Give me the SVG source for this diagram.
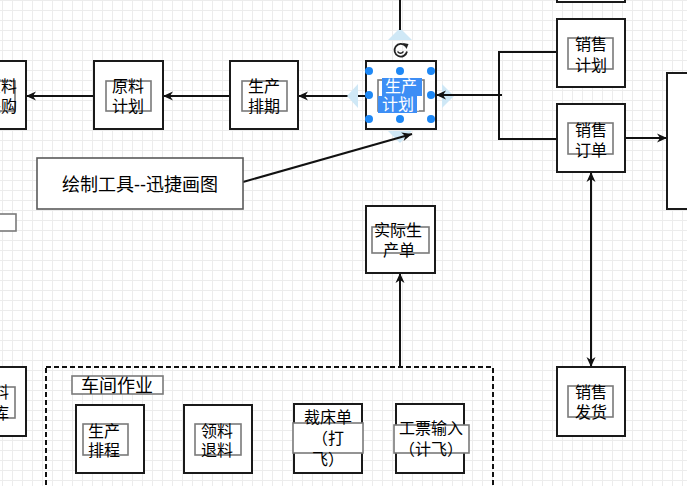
<svg xmlns="http://www.w3.org/2000/svg" width="687" height="486" viewBox="0 0 687 486">
<defs>
<pattern id="grid" width="10" height="10" patternUnits="userSpaceOnUse" x="2" y="0">
<path d="M0,0.5 H10 M0.5,0 V10" stroke="#ececec" stroke-width="1" fill="none"/>
</pattern>
<marker id="arr" viewBox="0 0 10 10" refX="10" refY="5" markerWidth="10" markerHeight="10" markerUnits="userSpaceOnUse" orient="auto-start-reverse">
<path d="M0,0.5 L10,5 L0,9.5 L3,5 z" fill="#111"/>
</marker>
<style>
.box{fill:#fff;stroke:#1a1a1a;stroke-width:2}
.lbl{fill:#fff;stroke:#7a7a7a;stroke-width:1.6}
.t{font-family:"Liberation Sans","Noto Sans CJK SC",sans-serif;font-size:16px;fill:#000;text-anchor:middle}
.t18{font-size:18px}
.ln{fill:none;stroke:#111;stroke-width:2}
.hov{fill:#cfe8f6}
.hdl{fill:#1e88f5}
</style>
</defs>
<rect width="687" height="486" fill="#fff"/>
<rect width="687" height="486" fill="url(#grid)"/>

<g id="hover-arrows">
<polygon class="hov" points="400,28 412,40 388,40"/>
<polygon class="hov" points="400,143 388,131 412,131"/>
<polygon class="hov" points="454,96 442,84 442,108"/>
</g>

<g id="connectors">
<path class="ln" d="M400,0 V30"/>
<path class="ln" d="M366,96 H298" marker-end="url(#arr)"/>
<path class="ln" d="M230,96 H163" marker-end="url(#arr)"/>
<path class="ln" d="M94,96 H26" marker-end="url(#arr)"/>
<path class="ln" d="M557,52 H499 V139 H557"/>
<path class="ln" d="M502,95 H436" marker-end="url(#arr)"/>
<path class="ln" d="M625,138 H667" marker-end="url(#arr)"/>
<path class="ln" d="M591,172 V367" marker-start="url(#arr)" marker-end="url(#arr)"/>
<path class="ln" d="M243,182 L412,134" marker-end="url(#arr)"/>
<path class="ln" d="M400,367 V273" marker-end="url(#arr)"/>
</g>

<g id="hover-left">
<polygon class="hov" points="347,96 358,84 358,108"/>
</g>

<g id="node-yuanliao-caigou">
<rect class="box" x="-42" y="61" width="68" height="68"/>
<rect class="lbl" x="-30" y="81" width="45" height="30"/>
<text class="t" x="1" y="92">原料</text>
<text class="t" x="1" y="112">采购</text>
</g>

<g id="node-yuanliao-jihua">
<rect class="box" x="94" y="61" width="69" height="68"/>
<rect class="lbl" x="106" y="81" width="45" height="30"/>
<text class="t" x="128" y="92">原料</text>
<text class="t" x="128" y="112">计划</text>
</g>

<g id="node-shengchan-paiqi">
<rect class="box" x="230" y="61" width="68" height="68"/>
<rect class="lbl" x="242" y="81" width="45" height="30"/>
<text class="t" x="264" y="92">生产</text>
<text class="t" x="264" y="112">排期</text>
</g>

<g id="node-shengchan-jihua">
<rect class="box" x="366" y="61" width="70" height="68"/>
<rect class="lbl" x="378" y="80" width="46" height="31" stroke="#dddddd"/>
<rect x="382" y="78" width="40" height="18" fill="#3d8ef5"/>
<rect x="378" y="96" width="39" height="17" fill="#3d8ef5"/>
<line x1="418" y1="97" x2="418" y2="111" stroke="#fff" stroke-width="1.5"/>
<text class="t" x="401" y="92" style="fill:#fff">生产</text>
<text class="t" x="398" y="110" style="fill:#fff">计划</text>
<circle class="hdl" cx="369" cy="71" r="4"/>
<circle class="hdl" cx="400" cy="71" r="4"/>
<circle class="hdl" cx="431" cy="71" r="4"/>
<circle class="hdl" cx="369" cy="95" r="4"/>
<circle class="hdl" cx="431" cy="95" r="4"/>
<circle class="hdl" cx="369" cy="119" r="4"/>
<circle class="hdl" cx="400" cy="119" r="4"/>
<circle class="hdl" cx="431" cy="119" r="4"/>
<path d="M405.5,46 A6.3,6.3 0 1 0 407,51.5" fill="none" stroke="#222" stroke-width="1.8"/>
<polygon points="403,43 408.5,44 406.5,49" fill="#222"/>
<path d="M397.5,51.5 Q400.5,55 403.5,51.5" fill="none" stroke="#222" stroke-width="1.3"/>
</g>

<g id="node-top-right">
<rect class="box" x="557" y="-70" width="68" height="72"/>
</g>

<g id="node-xiaoshou-jihua">
<rect class="box" x="557" y="19" width="68" height="68"/>
<rect class="lbl" x="568" y="38" width="45" height="31"/>
<text class="t" x="591" y="50">销售</text>
<text class="t" x="591" y="71">计划</text>
</g>

<g id="node-xiaoshou-dingdan">
<rect class="box" x="557" y="104" width="68" height="68"/>
<rect class="lbl" x="568" y="123" width="45" height="31"/>
<text class="t" x="591" y="136">销售</text>
<text class="t" x="591" y="156">订单</text>
</g>

<g id="node-right-big">
<rect class="box" x="667" y="73" width="60" height="136"/>
</g>

<g id="node-xiaoshou-fahuo">
<rect class="box" x="557" y="367" width="68" height="69"/>
<rect class="lbl" x="568" y="386" width="45" height="31"/>
<text class="t" x="591" y="398">销售</text>
<text class="t" x="591" y="418">发货</text>
</g>

<g id="node-note">
<rect x="37" y="158" width="206" height="51" fill="#fff" stroke="#5a5a5a" stroke-width="1.6"/>
<text class="t t18" x="140" y="191">绘制工具--迅捷画图</text>
</g>

<g id="node-left-small">
<rect class="lbl" x="-30" y="214" width="46" height="17"/>
</g>

<g id="node-shiji-shengchandan">
<rect class="box" x="366" y="206" width="69" height="67"/>
<rect class="lbl" x="372" y="227" width="57" height="26"/>
<text class="t" x="398" y="236">实际生</text>
<text class="t" x="399" y="256">产单</text>
</g>

<g id="node-left-bottom">
<rect class="box" x="-42" y="367" width="68" height="69"/>
<rect class="lbl" x="-30" y="387" width="45" height="31"/>
<text class="t" x="-7" y="398">原料</text>
<text class="t" x="-7" y="419">入库</text>
</g>

<g id="node-chejian-zuoye">
<rect x="46" y="367" width="447" height="140" fill="none" stroke="#111" stroke-width="2" stroke-dasharray="5 3"/>
<rect class="lbl" x="72" y="376" width="91" height="18"/>
<text class="t t18" x="117" y="392">车间作业</text>
</g>

<g id="node-shengchan-paicheng">
<rect class="box" x="76" y="405" width="68" height="68"/>
<rect class="lbl" x="83" y="424" width="45" height="31"/>
<text class="t" x="104" y="437">生产</text>
<text class="t" x="104" y="456">排程</text>
</g>

<g id="node-lingliao-tuiliao">
<rect class="box" x="184" y="405" width="68" height="68"/>
<rect class="lbl" x="195" y="424" width="46" height="31"/>
<text class="t" x="217" y="437">领料</text>
<text class="t" x="217" y="456">退料</text>
</g>

<g id="node-caichuangdan">
<rect class="box" x="294" y="404" width="68" height="69"/>
<rect class="lbl" x="293" y="423" width="70" height="30"/>
<text class="t" x="328" y="423">裁床单</text>
<text class="t" x="328" y="444">（打</text>
<text class="t" x="328" y="465">飞）</text>
</g>

<g id="node-gongpiao-shuru">
<rect class="box" x="396" y="404" width="68" height="69"/>
<rect class="lbl" x="394" y="425" width="75" height="28"/>
<text class="t" x="431" y="434">工票输入</text>
<text class="t" x="431" y="455">（计飞）</text>
</g>
</svg>
